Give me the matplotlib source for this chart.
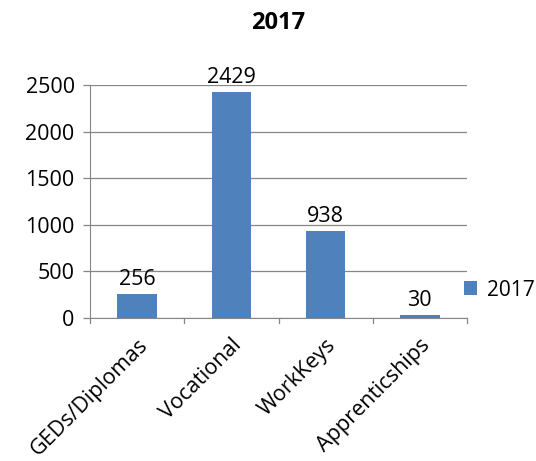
import matplotlib
matplotlib.use("Agg")
import matplotlib.pyplot as plt
from matplotlib.patches import Patch

# Data
categories = ["GEDs/Diplomas", "Vocational", "WorkKeys", "Apprenticships"]
values = [256, 2429, 938, 30]
series_name = "2017"
y_ticks = [0, 500, 1000, 1500, 2000, 2500]

BAR_COLOR = "#4F81BD"
GRID_COLOR = "#868686"

plt.rcParams['font.family'] = ['Open Sans', 'DejaVu Sans']

fig = plt.figure(figsize=(5.36, 4.61), dpi=100)
ax = fig.add_axes([90 / 536, 1 - 318 / 461, (467 - 90) / 536, (318 - 85) / 461])

x = range(len(categories))
bars = ax.bar(x, values, width=0.42, color=BAR_COLOR, zorder=3)

for b, v in zip(bars, values):
    ax.text(b.get_x() + b.get_width() / 2, v + 40, str(v),
            ha="center", va="bottom", fontsize=15.5)

ax.set_xlim(-0.5, len(categories) - 0.5)
ax.set_ylim(0, 2500)
ax.set_yticks(y_ticks)
ax.set_yticklabels([str(t) for t in y_ticks], fontsize=15.5)
ax.yaxis.grid(True, color=GRID_COLOR, linewidth=0.9, zorder=0)

ax.set_xticks(list(x))
ax.set_xticklabels(categories, rotation=45, ha="right", rotation_mode="anchor", fontsize=15.5)
ax.tick_params(axis="x", length=0, pad=12)
ax.tick_params(axis="y", length=5, color=GRID_COLOR, width=0.9, pad=6)

# boundary ticks on x axis
for bx in [i - 0.5 for i in range(len(categories) + 1)]:
    ax.plot([bx, bx], [0, -0.022], transform=ax.get_xaxis_transform(),
            color=GRID_COLOR, linewidth=0.9, clip_on=False)

for side in ["top", "right"]:
    ax.spines[side].set_visible(False)
ax.spines["left"].set_color(GRID_COLOR)
ax.spines["bottom"].set_color(GRID_COLOR)

ax.set_title(series_name, fontsize=17, fontweight="bold", pad=40)

handle = Patch(facecolor=BAR_COLOR, label=series_name)
ax.legend(handles=[handle], loc="center left", bbox_to_anchor=(0.98, 0.12),
          frameon=False, fontsize=15, handlelength=0.65, handleheight=0.65,
          handletextpad=0.45, borderpad=0.2, borderaxespad=0.0)

fig.savefig("out.png", dpi=100)
